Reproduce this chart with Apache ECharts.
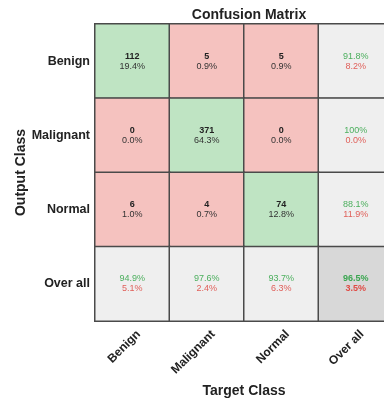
<!DOCTYPE html>
<html>
<head>
<meta charset="utf-8">
<script src="https://cdn.jsdelivr.net/npm/echarts@6/dist/echarts.min.js"></script>
<style>
  html, body { margin: 0; padding: 0; background: #ffffff; }
  #chart { width: 384px; height: 401px; }
</style>
</head>
<body>
<div id="chart"></div>
<script>
// Class labels used on both axes (last entry is the summary row / column)
const classes = ['Benign', 'Malignant', 'Normal', 'Over all'];

// Counts: rows = output class, columns = target class
const counts = [
  [112, 5, 5],
  [0, 371, 0],
  [6, 4, 74]
];
// Share of all samples for each cell
const cellPct = [
  ['19.4%', '0.9%', '0.9%'],
  ['0.0%', '64.3%', '0.0%'],
  ['1.0%', '0.7%', '12.8%']
];
// Row summaries (correct / wrong)
const rowGood = ['91.8%', '100%', '88.1%'];
const rowBad = ['8.2%', '0.0%', '11.9%'];
// Column summaries (correct / wrong)
const colGood = ['94.9%', '97.6%', '93.7%'];
const colBad = ['5.1%', '2.4%', '6.3%'];
// Overall accuracy
const totalGood = '96.5%';
const totalBad = '3.5%';

const GREEN = '#bfe4c3', RED = '#f5c2bf', GREY = '#efefef', DARK = '#d8d8d8';
const font = 'Liberation Sans, Arial, sans-serif';

const data = [];
for (let r = 0; r < 3; r++) {
  for (let c = 0; c < 3; c++) {
    data.push({
      value: [c, r, counts[r][c]],
      itemStyle: { color: r === c ? GREEN : RED },
      label: { formatter: '{n|' + counts[r][c] + '}\n{p|' + cellPct[r][c] + '}' }
    });
  }
  data.push({
    value: [3, r, 0],
    itemStyle: { color: GREY },
    label: { formatter: '{g|' + rowGood[r] + '}\n{b|' + rowBad[r] + '}' }
  });
}
for (let c = 0; c < 3; c++) {
  data.push({
    value: [c, 3, 0],
    itemStyle: { color: GREY },
    label: { formatter: '{g|' + colGood[c] + '}\n{b|' + colBad[c] + '}' }
  });
}
data.push({
  value: [3, 3, 0],
  itemStyle: { color: DARK },
  label: { formatter: '{G|' + totalGood + '}\n{B|' + totalBad + '}' }
});

const chart = echarts.init(document.getElementById('chart'), null, { renderer: 'canvas' });
chart.setOption({
  backgroundColor: '#ffffff',
  animation: false,
  textStyle: { fontFamily: font },
  title: {
    text: 'Confusion Matrix',
    left: 244,
    top: 3,
    textAlign: 'center',
    textStyle: { fontFamily: font, fontSize: 14, fontWeight: 'bold', color: '#222' }
  },
  grid: { left: 95, top: 24, width: 298, height: 297, outerBoundsMode: 'none', containLabel: false },
  xAxis: {
    type: 'category',
    data: classes,
    position: 'bottom',
    axisLine: { show: false },
    axisTick: { show: false },
    splitLine: { show: false },
    axisLabel: {
      rotate: 45, fontSize: 12, fontWeight: 'bold', color: '#222', margin: 5,
      verticalAlign: 'top', lineHeight: 18, fontFamily: font
    },
    name: 'Target Class',
    nameLocation: 'middle',
    nameGap: 63,
    nameMoveOverlap: false,
    nameTextStyle: { fontSize: 14, fontWeight: 'bold', color: '#222', fontFamily: font }
  },
  yAxis: {
    type: 'category',
    data: classes,
    inverse: true,
    axisLine: { show: false },
    axisTick: { show: false },
    splitLine: { show: false },
    axisLabel: { fontSize: 12.5, fontWeight: 'bold', color: '#222', margin: 5, fontFamily: font },
    name: 'Output Class',
    nameLocation: 'middle',
    nameRotate: 90,
    nameGap: 67,
    nameMoveOverlap: false,
    nameTextStyle: { fontSize: 14, fontWeight: 'bold', color: '#222', fontFamily: font }
  },
  series: [{
    type: 'heatmap',
    data: data,
    itemStyle: { borderColor: '#4a4a4a', borderWidth: 1.5 },
    label: {
      show: true,
      fontFamily: font,
      rich: {
        n: { fontSize: 9, fontWeight: 'bold', color: '#222', lineHeight: 10, fontFamily: font },
        p: { fontSize: 9, color: '#333', lineHeight: 10, fontFamily: font },
        g: { fontSize: 9, color: '#4caf5e', lineHeight: 10, fontFamily: font },
        b: { fontSize: 9, color: '#e0605a', lineHeight: 10, fontFamily: font },
        G: { fontSize: 9, fontWeight: 'bold', color: '#3aa650', lineHeight: 10, fontFamily: font },
        B: { fontSize: 9, fontWeight: 'bold', color: '#e04a44', lineHeight: 10, fontFamily: font }
      }
    },
    emphasis: { disabled: true }
  }]
});
</script>
</body>
</html>
